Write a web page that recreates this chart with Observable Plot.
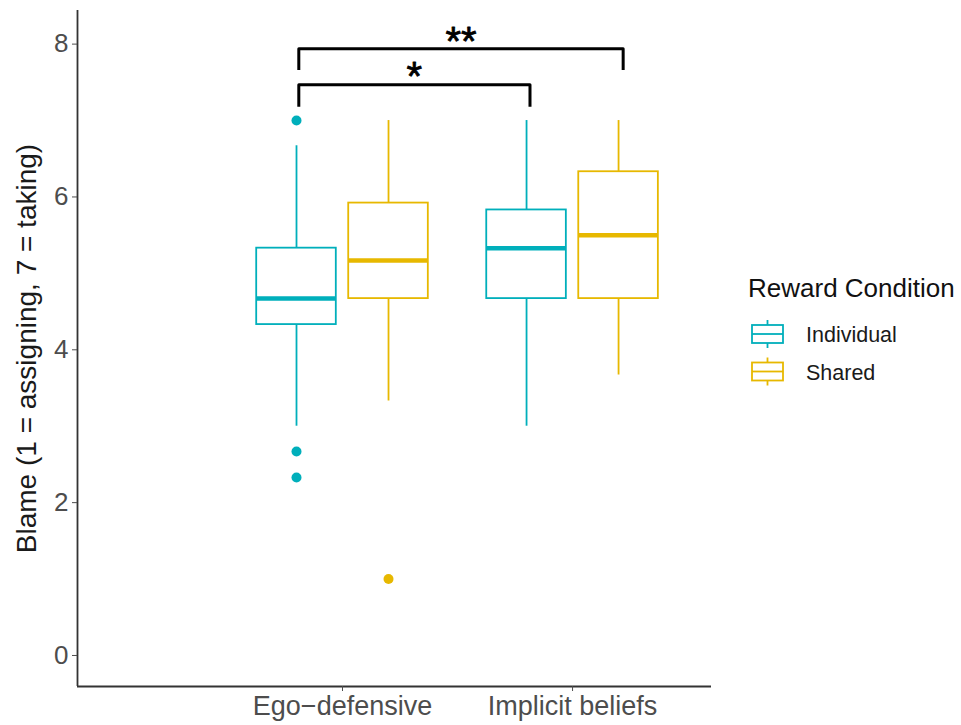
<!DOCTYPE html>
<html><head><meta charset="utf-8">
<script src="https://cdn.jsdelivr.net/npm/d3@7"></script>
<script src="https://cdn.jsdelivr.net/npm/@observablehq/plot@0.6"></script>
<style>body{margin:0;background:#fff;} #chart{position:relative;width:961px;height:725px;}</style>
</head><body><div id="chart"></div>
<script>
// ---- data ----
const categories = ["Ego\u2212defensive", "Implicit beliefs"];
const conditions = ["Individual", "Shared"];
const conditionColors = ["#00AFBB", "#E7B800"];
// boxes: Ego-Individual, Ego-Shared, Implicit-Individual, Implicit-Shared
const boxCategory = [0, 0, 1, 1];
const boxCondition = [0, 1, 0, 1];
const whiskerLow = [3.0, 3.33, 3.0, 3.67];
const q1 = [4.33, 4.67, 4.67, 4.67];
const medians = [4.67, 5.17, 5.33, 5.5];
const q3 = [5.33, 5.92, 5.83, 6.33];
const whiskerHigh = [6.67, 7.0, 7.0, 7.0];
const outlierBox = [0, 0, 0, 1];
const outlierValue = [7.0, 2.67, 2.33, 1.0];
const yTicks = [0, 2, 4, 6, 8];
const bracketStart = [-0.19, -0.19];
const bracketEnd = [0.815, 1.22];
const bracketHeight = [7.47, 7.94];
const bracketTip = [7.18, 7.66];
const bracketLabels = ["*", "**"];
const yTitle = "Blame (1 = assigning, 7 = taking)";
const legendTitle = "Reward Condition";

// ---- build tables ----
const dodge = 0.2, halfWidth = 0.173;
const boxes = boxCategory.map((c, i) => ({
  x: c + (boxCondition[i] ? dodge : -dodge),
  cond: conditions[boxCondition[i]],
  lo: whiskerLow[i], q1: q1[i], med: medians[i], q3: q3[i], hi: whiskerHigh[i]
}));
const outliers = outlierBox.map((b, i) => ({x: boxes[b].x, cond: boxes[b].cond, y: outlierValue[i]}));
const bracketPts = bracketLabels.flatMap((l, i) => [
  {id: i, x: bracketStart[i], y: bracketTip[i]},
  {id: i, x: bracketStart[i], y: bracketHeight[i]},
  {id: i, x: bracketEnd[i], y: bracketHeight[i]},
  {id: i, x: bracketEnd[i], y: bracketTip[i]}
]);
const bracketText = bracketLabels.map((l, i) => ({x: (bracketStart[i] + bracketEnd[i]) / 2, y: bracketHeight[i], label: l}));

const FONT = "Liberation Sans, Arial, sans-serif";
const xDomain = [-1.152, 1.604], yDomain = [-0.406, 8.44];

const plot = Plot.plot({
  width: 961, height: 725,
  marginLeft: 77, marginRight: 250, marginTop: 10, marginBottom: 39,
  style: {fontFamily: FONT, background: "white", overflow: "visible"},
  x: {type: "linear", domain: xDomain},
  y: {domain: yDomain},
  color: {domain: conditions, range: conditionColors},
  marks: [
    Plot.ruleX(boxes, {x: "x", y1: "q3", y2: "hi", stroke: "cond", strokeWidth: 1.8}),
    Plot.ruleX(boxes, {x: "x", y1: "lo", y2: "q1", stroke: "cond", strokeWidth: 1.8}),
    Plot.rect(boxes, {x1: d => d.x - halfWidth, x2: d => d.x + halfWidth, y1: "q1", y2: "q3", fill: "white", stroke: "cond", strokeWidth: 1.8}),
    Plot.ruleY(boxes, {x1: d => d.x - halfWidth, x2: d => d.x + halfWidth, y: "med", stroke: "cond", strokeWidth: 4.5}),
    Plot.dot(outliers, {x: "x", y: "y", fill: "cond", r: 5, stroke: null}),
    Plot.line(bracketPts, {x: "x", y: "y", z: "id", stroke: "black", strokeWidth: 3, strokeLinejoin: "round", strokeLinecap: "butt"}),
    Plot.text(bracketText, {x: "x", y: "y", text: "label", fontSize: 40, lineAnchor: "middle", dy: -7, fill: "black", stroke: "black", strokeWidth: 0.8}),
    Plot.ruleX([xDomain[0]], {stroke: "#333", strokeWidth: 1.8}),
    Plot.ruleY([yDomain[0]], {stroke: "#333", strokeWidth: 1.8}),
    Plot.axisY({ticks: yTicks, tickSize: 5, tickPadding: 4, fontSize: 26, label: null, color: "#4d4d4d"}),
    Plot.axisX({ticks: [0, 1], tickFormat: i => categories[i], tickSize: 5, tickPadding: 4, fontSize: 27, label: null, color: "#4d4d4d"}),
    Plot.text([yTitle], {text: d => d, frameAnchor: "left", rotate: -90, dx: -50, fontSize: 28, fill: "#1a1a1a", textAnchor: "middle", lineAnchor: "middle"})
  ]
});
document.getElementById("chart").appendChild(plot);

// ---- legend ----
const svg = d3.select(plot);
const lg = svg.append("g").attr("font-family", FONT).attr("text-anchor", "start");
lg.append("text").attr("x", 748).attr("y", 297).attr("font-size", 26).attr("fill", "#111").text(legendTitle);
conditions.forEach((c, i) => {
  const cy = 334 + i * 37.5, col = conditionColors[i];
  const g = lg.append("g").attr("stroke", col).attr("stroke-width", 1.8).attr("fill", "white");
  g.append("line").attr("x1", 767.5).attr("x2", 767.5).attr("y1", cy - 14).attr("y2", cy + 14);
  g.append("rect").attr("x", 752).attr("y", cy - 9).attr("width", 31).attr("height", 18);
  g.append("line").attr("x1", 752).attr("x2", 783).attr("y1", cy).attr("y2", cy);
  lg.append("text").attr("x", 806).attr("y", cy + 8).attr("font-size", 21.5).attr("fill", "#1a1a1a").text(c);
});
</script>
</body></html>
